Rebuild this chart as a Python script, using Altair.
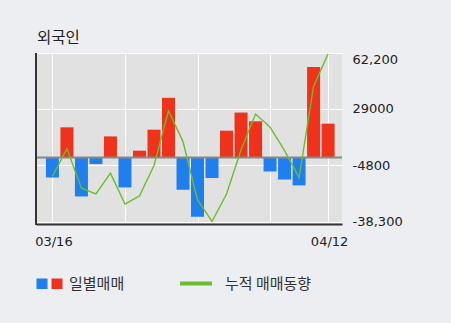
import altair as alt
import pandas as pd

# ---- data ----
dates = ["03/16", "03/19", "03/20", "03/21", "03/22", "03/23", "03/26", "03/27",
         "03/28", "03/29", "03/30", "04/02", "04/03", "04/04", "04/05", "04/06",
         "04/09", "04/10", "04/11", "04/12"]
daily = [-12000, 17900, -23300, -4000, 12500, -17900, 4000, 16500, 35500, -19300,
         -35400, -12300, 15900, 26700, 21500, -8400, -13200, -16700, 53800, 20100]
trend = [-11300, 5200, -18400, -21800, -9400, -27800, -23000, -4800, 27800, 9400,
         -25400, -38200, -21800, 4500, 25800, 18000, 4000, -12000, 42400, 61700]
y_ticks = [62200, 29000, -4800, -38300]
y_labels = ["62,200", "29000", "-4800", "-38,300"]
x_grid = [0, 5, 10, 15, 19]
title_text = "외국인"
legend_daily = "일별매매"
legend_trend = "누적 매매동향"

RED = "#ef3219"
BLUE = "#1f7fef"
GREEN = "#6cbd2c"
NUMFONT = "DejaVu Sans"
KFONT = "Noto Sans CJK KR"

df = pd.DataFrame({"idx": list(range(len(dates))), "date": dates,
                   "daily": daily, "trend": trend})

x_label_expr = "datum.value == 0 ? '%s' : (datum.value == %d ? '%s' : '')" % (
    dates[0], len(dates) - 1, dates[-1])
y_label_expr = " : ".join(
    "datum.value == %d ? '%s'" % (v, l) for v, l in zip(y_ticks, y_labels)) + " : ''"

xscale = alt.Scale(domain=[-0.787, 19.613], nice=False, zero=False)
yscale = alt.Scale(domain=[-39700, 62200], nice=False, zero=False)

xaxis = alt.Axis(values=x_grid, labelExpr=x_label_expr, grid=True, gridColor="white",
                 gridWidth=1, ticks=False, domain=True, domainColor="#333333",
                 domainWidth=2, labelPadding=11, labelOffset=1, labelFont=NUMFONT,
                 labelFontSize=13, labelColor="#222222", title=None,
                 labelOverlap=False)
yaxis = alt.Axis(orient="right", values=y_ticks, labelExpr=y_label_expr, grid=True,
                 gridColor="white", gridWidth=1, ticks=False, domain=False,
                 labelPadding=10, labelFlush=True, labelFont=NUMFONT,
                 labelFontSize=13, labelColor="#222222", title=None,
                 labelOverlap=False)

bars = alt.Chart(df).mark_bar(size=13).encode(
    x=alt.X("idx:Q", scale=xscale, axis=xaxis),
    y=alt.Y("daily:Q", scale=yscale, axis=yaxis),
    color=alt.condition("datum.daily > 0", alt.value(RED), alt.value(BLUE)),
)

zero = alt.Chart(pd.DataFrame({"z": [0]})).mark_rule(
    color="#888888", strokeWidth=2).encode(y="z:Q")

line = alt.Chart(df).mark_line(color=GREEN, strokeWidth=1.4).encode(
    x="idx:Q", y="trend:Q")

left_border = alt.Chart(pd.DataFrame({"a": [0]})).mark_rule(
    color="#333333", strokeWidth=2).encode(
    x=alt.value(0), y=alt.value(0), y2=alt.value(172))

title = alt.Chart(pd.DataFrame({"t": [title_text]})).mark_text(
    align="left", baseline="middle", font=KFONT, fontSize=15.5, color="#222222").encode(
    x=alt.value(1), y=alt.value(-15), text="t:N")

leg_sq = alt.Chart(pd.DataFrame({"c": [BLUE, RED], "x0": [0.5, 15.5]})).mark_rect().encode(
    x=alt.X("x0:Q", scale=None), x2=alt.X2("x1:Q"),
    y=alt.value(225.5), y2=alt.value(236),
    color=alt.Color("c:N", scale=None),
).transform_calculate(x1="datum.x0 + 11")

leg_line = alt.Chart(pd.DataFrame({"a": [0]})).mark_rule(
    color=GREEN, strokeWidth=4).encode(
    x=alt.value(144), x2=alt.value(176), y=alt.value(230.5))

leg_text = alt.Chart(pd.DataFrame({"t": [legend_daily, legend_trend],
                                   "px": [33, 189]})).mark_text(
    align="left", baseline="middle", font=KFONT, fontSize=15, color="#333333").encode(
    x=alt.X("px:Q", scale=None), y=alt.value(230.5), text="t:N")

chart = alt.layer(bars, zero, line, left_border, title, leg_sq, leg_line, leg_text).properties(
    width=306, height=171,
    autosize=alt.AutoSizeParams(type="none"),
    padding={"left": 36, "top": 53, "right": 109, "bottom": 99},
).configure(background="#edeef2").configure_view(fill="#e1e1e1", stroke=None)

chart.save("out.html", embed_options={"renderer": "svg", "actions": False})
